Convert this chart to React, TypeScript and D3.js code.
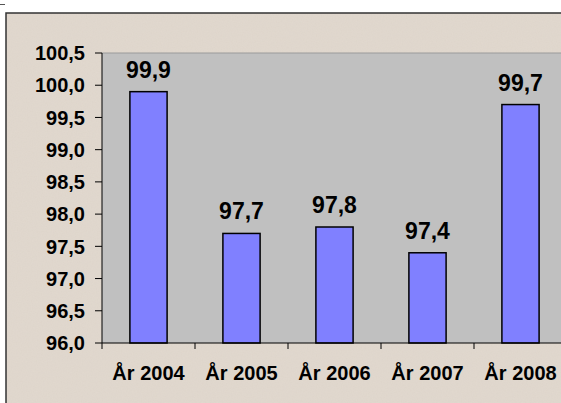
import React from 'react';
import * as d3 from 'd3';

const years = ['År 2004', 'År 2005', 'År 2006', 'År 2007', 'År 2008'];
const values = [99.9, 97.7, 97.8, 97.4, 99.7];
const yTicks = [96.0, 96.5, 97.0, 97.5, 98.0, 98.5, 99.0, 99.5, 100.0, 100.5];

const W = 561;
const H = 403;
const plot = { left: 102, top: 53, right: 567, bottom: 343 };
const font = 'Arial, "Liberation Sans", sans-serif';

const fmt = (v: number) => v.toFixed(1).replace('.', ',');

export default function App() {
  const x = d3.scaleBand<string>()
    .domain(years)
    .range([plot.left, plot.right])
    .paddingInner(0.6)
    .paddingOuter(0.3);

  const y = d3.scaleLinear()
    .domain([96, 100.5])
    .range([plot.bottom, plot.top]);

  // category boundaries for the x tick marks
  const tickXs = years.map((d, i) => plot.left + i * ((plot.right - plot.left) / years.length));

  return (
    <div style={{ position: 'absolute', left: 0, top: 0 }}>
      <svg width={W} height={H} style={{ display: 'block' }}>
        <defs>
          <filter id="paper" x="0" y="0" width="100%" height="100%">
            <feTurbulence type="fractalNoise" baseFrequency="0.8" numOctaves={2} seed={4} result="n" />
            <feColorMatrix in="n" type="matrix"
              values="0 0 0 0 0.55  0 0 0 0 0.5  0 0 0 0 0.45  0 0 0 0.16 0" result="tint" />
            <feComposite in="tint" in2="SourceGraphic" operator="in" result="t2" />
            <feMerge>
              <feMergeNode in="SourceGraphic" />
              <feMergeNode in="t2" />
            </feMerge>
          </filter>
        </defs>
        <rect x={0} y={0} width={W} height={H} fill="#ffffff" />
        <rect x={6} y={13} width={W + 10} height={H} fill="#E2D9CF" filter="url(#paper)" />
        <rect x={6} y={13} width={W + 10} height={H} fill="none" stroke="#333" strokeWidth={1.5} />
        <line x1={0} x2={5} y1={4.5} y2={4.5} stroke="#555" strokeWidth={1} />

        <rect x={plot.left} y={plot.top} width={plot.right - plot.left} height={plot.bottom - plot.top}
          fill="#C0C0C0" />
        <line x1={plot.left} x2={W} y1={plot.top} y2={plot.top} stroke="#9a9a9a" strokeWidth={1} />

        {years.map((d, i) => (
          <g key={d}>
            <rect
              x={x(d)}
              y={y(values[i])}
              width={x.bandwidth()}
              height={plot.bottom - y(values[i])}
              fill="#8080FF"
              stroke="#000"
              strokeWidth={1.5}
            />
            <text
              x={(x(d) as number) + x.bandwidth() / 2}
              y={y(values[i]) - 14}
              textAnchor="middle"
              fontFamily={font}
              fontWeight="bold"
              fontSize={23}
              fill="#000"
            >
              {fmt(values[i])}
            </text>
            <text
              x={(x(d) as number) + x.bandwidth() / 2}
              y={380}
              textAnchor="middle"
              fontFamily={font}
              fontWeight="bold"
              fontSize={20}
              fill="#000"
            >
              {d}
            </text>
          </g>
        ))}

        {/* y axis */}
        <line x1={plot.left} x2={plot.left} y1={plot.top} y2={plot.bottom} stroke="#000" strokeWidth={1} />
        {yTicks.map(t => (
          <g key={t}>
            <line x1={plot.left - 7} x2={plot.left} y1={y(t)} y2={y(t)} stroke="#000" strokeWidth={1} />
            <text
              x={85}
              y={y(t)}
              dy="0.36em"
              textAnchor="end"
              fontFamily={font}
              fontWeight="bold"
              fontSize={20}
              fill="#000"
            >
              {fmt(t)}
            </text>
          </g>
        ))}

        {/* x axis */}
        <line x1={plot.left} x2={W} y1={plot.bottom} y2={plot.bottom} stroke="#000" strokeWidth={1} />
        {tickXs.map((tx, i) => (
          <line key={i} x1={tx} x2={tx} y1={plot.bottom} y2={plot.bottom + 6} stroke="#000" strokeWidth={1} />
        ))}
      </svg>
    </div>
  );
}
